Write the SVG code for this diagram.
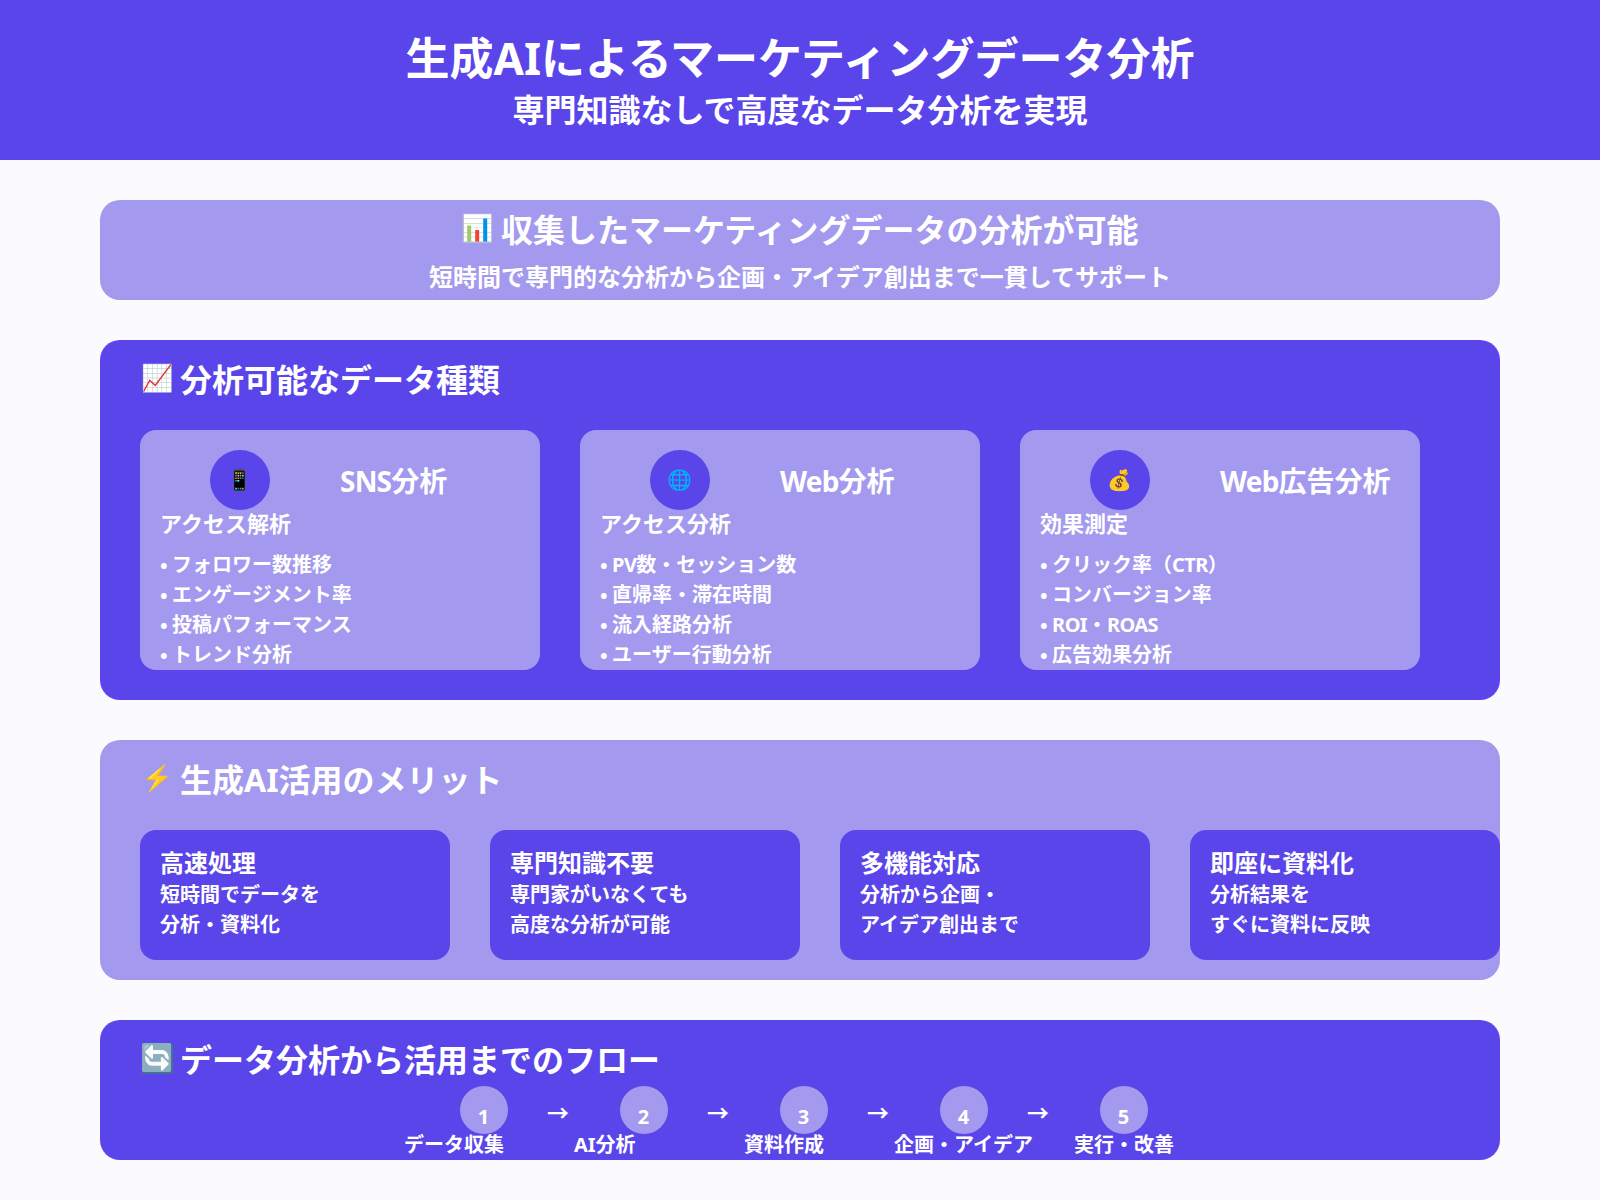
<svg xmlns="http://www.w3.org/2000/svg" width="1600" height="1200" viewBox="0 0 1600 1200">
<style>
text{font-family:"Noto Sans","Noto Sans CJK JP",sans-serif;fill:#fff;font-weight:700}
.p{fill:#5a45ea}.l{fill:#a399ef}
.c{text-anchor:middle}
.h{font-size:32px}.ct{font-size:28px}.cs{font-size:22px}.b{font-size:20px}.mt{font-size:24px}
.e{font-size:20px;font-family:"Noto Color Emoji",sans-serif}.eh{font-size:26px;font-family:"Noto Color Emoji",sans-serif}
.a{font-size:22px;font-family:"Noto Sans CJK JP",sans-serif;text-anchor:middle}
.j{font-family:"Noto Sans CJK JP",sans-serif}.t{letter-spacing:-.6px}.u{letter-spacing:-.8px}
</style>
<rect width="1600" height="1200" fill="#fafaff"/>
<g id="header"><rect class="p" width="1600" height="160"/>
<text class="c" x="800" y="75" font-size="44">生成AIによるマーケティングデータ分析</text>
<text class="c" x="800" y="122" font-size="32">専門知識なしで高度なデータ分析を実現</text></g>
<g id="banner"><rect class="l" x="100" y="200" width="1400" height="100" rx="20"/>
<text class="eh" x="461" y="237">📊</text><text class="h" x="501" y="242">収集したマーケティングデータの分析が可能</text>
<text class="c" x="800" y="286" font-size="24">短時間で専門的な分析から企画・アイデア創出まで一貫してサポート</text></g>
<g id="data-types"><rect class="p" x="100" y="340" width="1400" height="360" rx="20"/>
<text class="eh" x="141" y="387">📈</text><text class="h" x="180" y="392">分析可能なデータ種類</text>
<g id="card-sns"><rect class="l" x="140" y="430" width="400" height="240" rx="16"/><circle class="p" cx="240" cy="480" r="30"/>
<text class="e c" x="240" y="487">📱</text><text class="ct" x="340" y="492"><tspan class="u">SNS</tspan>分析</text>
<text class="cs" x="160" y="532">アクセス解析</text>
<text class="b j" x="160" y="572">• フォロワー数推移</text><text class="b j" x="160" y="602">• エンゲージメント率</text><text class="b j" x="160" y="632">• 投稿パフォーマンス</text><text class="b j" x="160" y="662">• トレンド分析</text></g>
<g id="card-web"><rect class="l" x="580" y="430" width="400" height="240" rx="16"/><circle class="p" cx="680" cy="480" r="30"/>
<text class="e c" x="680" y="487">🌐</text><text class="ct" x="780" y="492"><tspan class="u">Web</tspan>分析</text>
<text class="cs" x="600" y="532">アクセス分析</text>
<text class="b" x="600" y="572"><tspan class="j">• </tspan><tspan class="t">PV</tspan>数・セッション数</text><text class="b j" x="600" y="602">• 直帰率・滞在時間</text><text class="b j" x="600" y="632">• 流入経路分析</text><text class="b j" x="600" y="662">• ユーザー行動分析</text></g>
<g id="card-ads"><rect class="l" x="1020" y="430" width="400" height="240" rx="16"/><circle class="p" cx="1120" cy="480" r="30"/>
<text class="e c" x="1120" y="487">💰</text><text class="ct" x="1220" y="492"><tspan class="u">Web</tspan>広告分析</text>
<text class="cs" x="1040" y="532">効果測定</text>
<text class="b" x="1040" y="572"><tspan class="j">• </tspan>クリック率（<tspan class="t">CTR</tspan>）</text><text class="b j" x="1040" y="602">• コンバージョン率</text><text class="b" x="1040" y="632"><tspan class="j">• </tspan><tspan class="t">ROI</tspan>・<tspan class="t">ROAS</tspan></text><text class="b j" x="1040" y="662">• 広告効果分析</text></g></g>
<g id="merits"><rect class="l" x="100" y="740" width="1400" height="240" rx="20"/>
<text class="eh" x="141" y="787">⚡</text><text class="h" x="180" y="792">生成AI活用のメリット</text>
<g id="merit-1"><rect class="p" x="140" y="830" width="310" height="130" rx="16"/><text class="mt" x="160" y="872">高速処理</text><text class="b" x="160" y="902">短時間でデータを</text><text class="b" x="160" y="932">分析・資料化</text></g>
<g id="merit-2"><rect class="p" x="490" y="830" width="310" height="130" rx="16"/><text class="mt" x="510" y="872">専門知識不要</text><text class="b" x="510" y="902">専門家がいなくても</text><text class="b" x="510" y="932">高度な分析が可能</text></g>
<g id="merit-3"><rect class="p" x="840" y="830" width="310" height="130" rx="16"/><text class="mt" x="860" y="872">多機能対応</text><text class="b" x="860" y="902">分析から企画・</text><text class="b" x="860" y="932">アイデア創出まで</text></g>
<g id="merit-4"><rect class="p" x="1190" y="830" width="310" height="130" rx="16"/><text class="mt" x="1210" y="872">即座に資料化</text><text class="b" x="1210" y="902">分析結果を</text><text class="b" x="1210" y="932">すぐに資料に反映</text></g></g>
<g id="flow"><rect class="p" x="100" y="1020" width="1400" height="140" rx="20"/>
<text class="eh" x="140" y="1068" style="font-size:28px">🔄</text><text class="h" x="180" y="1072">データ分析から活用までのフロー</text>
<g id="step-1"><circle class="l" cx="484" cy="1110" r="24"/><text class="b c" x="483.5" y="1124">1</text><text class="b" x="404" y="1152">データ収集</text></g>
<g id="step-2"><circle class="l" cx="644" cy="1110" r="24"/><text class="b c" x="643.5" y="1124">2</text><text class="b" x="574" y="1152">AI分析</text></g>
<g id="step-3"><circle class="l" cx="804" cy="1110" r="24"/><text class="b c" x="803.5" y="1124">3</text><text class="b" x="744" y="1152">資料作成</text></g>
<g id="step-4"><circle class="l" cx="964" cy="1110" r="24"/><text class="b c" x="963.5" y="1124">4</text><text class="b" x="894" y="1152">企画・アイデア</text></g>
<g id="step-5"><circle class="l" cx="1124" cy="1110" r="24"/><text class="b c" x="1123.5" y="1124">5</text><text class="b" x="1074" y="1152">実行・改善</text></g>
<g id="connectors"><text class="a" x="558" y="1121">→</text><text class="a" x="718" y="1121">→</text><text class="a" x="878" y="1121">→</text><text class="a" x="1038" y="1121">→</text></g></g>
</svg>
